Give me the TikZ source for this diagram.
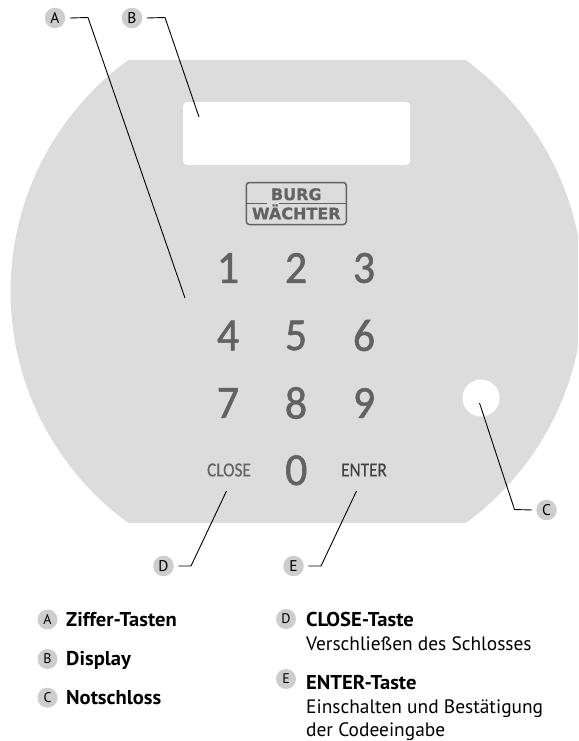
\documentclass[tikz,border=0pt]{standalone}
\usepackage{fontspec}
\setmainfont{PT Sans}
\newfontfamily\keyfont[FakeStretch=0.95, FakeBold=1.2]{Carlito}
\newfontfamily\wordfont[FakeStretch=0.86, FakeBold=0.2]{Carlito}
\newfontfamily\logofont[FakeBold=0.6]{DejaVu Sans}
\newfontfamily\titlefont[FakeStretch=1.03]{PT Sans}
\usepackage{tikz}
\usetikzlibrary{positioning}
\definecolor{panelgray}{HTML}{DCDCDC}
\definecolor{badgegray}{HTML}{CDCDCD}
\definecolor{keygray}{HTML}{626262}

\begin{document}
\begin{tikzpicture}[
  x=1pt, y=-1pt,
  node distance=67.5pt and 68pt,
  digit/.style={on grid, font=\keyfont\fontsize{46}{46}\selectfont, text=keygray, inner sep=0pt},
  keyword/.style={inner sep=0pt, font=\wordfont\fontsize{20}{20}\selectfont},
  callout/.style={circle, fill=badgegray, minimum size=20.5pt, inner sep=0pt, outer sep=4.5pt, font=\fontsize{15.5}{15.5}\selectfont},
  legendmark/.style={circle, fill=badgegray, minimum size=20pt, inner sep=0pt, font=\fontsize{14}{14}\selectfont},
  title/.style={anchor=base west, inner sep=0pt, font=\titlefont\fontsize{20}{20}\selectfont\bfseries},
  descr/.style={anchor=base west, inner sep=0pt, font=\fontsize{19.4}{24}\selectfont},
  leader/.style={draw=black, line width=0.9pt},
  logotext/.style={inner sep=0pt, text=keygray, font=\logofont\fontsize{16}{16}\selectfont\bfseries},
]
\useasboundingbox (0,0) rectangle (578,741);

% Panel
\begin{scope}
  \clip (0,61) rectangle (578,522);
  \fill[panelgray] (297,291.5) circle (286.4pt);
\end{scope}
\fill[white, rounded corners=4pt] (183,102) rectangle (410,165);
\fill[white] (481,398) circle (18.5pt);

% Logo
\node[draw=keygray, line width=1.5pt, rounded corners=3pt, minimum width=100pt, minimum height=42pt, inner sep=0pt] (logo) at (296.3,203.5) {};
\node[logotext] (burg) at (296.3,194.3) {BURG};
\node[logotext, anchor=base] (waechter) at (296.3,219.3) {WÄCHTER};
\draw[keygray, line width=1.2pt] (logo.west) -- ++(21,0);
\draw[keygray, line width=1.2pt] (logo.east) -- ++(-68,0);

% Keys
\node[digit] (one) at (228,268) {1};
\node[digit, right=of one] (two) {2};
\node[digit, right=of two] (three) {3};
\node[digit, below=of one] (four) {4};
\node[digit, right=of four] (five) {5};
\node[digit, right=of five] (six) {6};
\node[digit, below=of four] (seven) {7};
\node[digit, right=of seven] (eight) {8};
\node[digit, right=of eight] (nine) {9};
\node[digit] (zero) at (296.3,470.3) {0};
\node[keyword, text=keygray] (close) at (229,470) {CLOSE};
\node[keyword, text=black!75] (enter) at (364,470) {ENTER};

% Callouts
\node[callout] (calloutA) at (55,18) {A};
\node[callout] (calloutB) at (132,18) {B};
\node[callout] (calloutC) at (546.5,510) {C};
\node[callout] (calloutD) at (163.5,566) {D};
\node[callout] (calloutE) at (293.5,566) {E};

\coordinate (kneeA) at (88,17.5);
\coordinate (tipA) at (185,298);
\coordinate (kneeB) at (165,17.5);
\coordinate (tipB) at (199,117);
\coordinate (kneeC) at (514.5,509.5);
\coordinate (tipC) at (479.5,403);
\coordinate (kneeD) at (191,566);
\coordinate (tipD) at (226.5,491);
\coordinate (kneeE) at (321,566);
\coordinate (tipE) at (356.5,491);

\draw[leader] (calloutA.east) -- (kneeA) -- (tipA);
\draw[leader] (calloutB.east) -- (kneeB) -- (tipB);
\draw[leader] (calloutC.west) -- (kneeC) -- (tipC);
\draw[leader] (calloutD.east) -- (kneeD) -- (tipD);
\draw[leader] (calloutE.east) -- (kneeE) -- (tipE);

% Legend
\node[legendmark] (markA) at (47.5,619.5) {A};
\node[title] (titleA) at (66,626) {Ziffer-Tasten};
\node[legendmark] (markB) at (47.5,659) {B};
\node[title] (titleB) at (66,665) {Display};
\node[legendmark] (markC) at (47.5,697.7) {C};
\node[title] (titleC) at (66,704) {Notschloss};
\node[legendmark] (markD) at (286,619) {D};
\node[title] (titleD) at (306,626) {CLOSE-Taste};
\node[descr] (descrD) at (306,650) {Verschließen des Schlosses};
\node[legendmark] (markE) at (286,679) {E};
\node[title] (titleE) at (306,689.3) {ENTER-Taste};
\node[descr] (descrE) at (306,713) {Einschalten und Bestätigung};
\node[descr] (descrEE) at (306,736.7) {der Codeeingabe};

\end{tikzpicture}
\end{document}
